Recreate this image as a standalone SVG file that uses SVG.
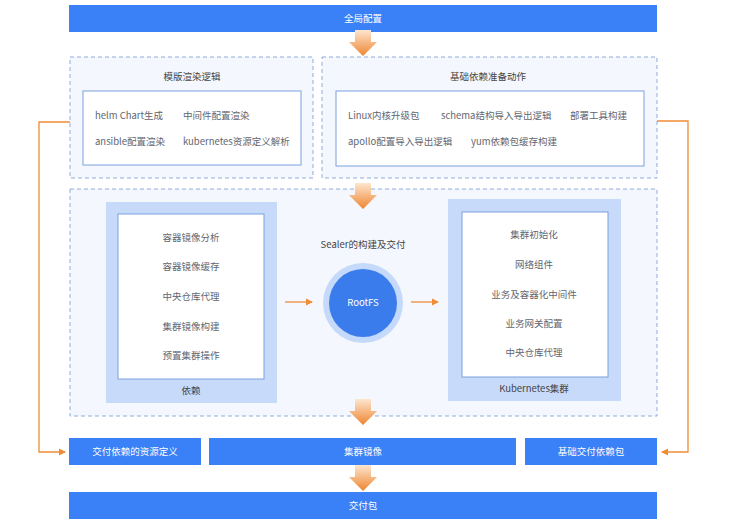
<svg xmlns="http://www.w3.org/2000/svg" width="731" height="527" viewBox="0 0 731 527">
<style>
text{font-family:"Noto Sans CJK SC","Liberation Sans",sans-serif;font-size:9.5px;fill:#5f6670}
.w{fill:#fff}
.bar{fill:#3a80f6}
.dash{fill:#f4f7fd;stroke:#8fabdc;stroke-width:1;stroke-dasharray:4 3}
.inner{fill:#fff;stroke:#7aa0e0;stroke-width:1}
.panel{fill:#c8dafa}
.c{text-anchor:middle}
.line{fill:none;stroke:#ef8c36;stroke-width:1.3}
</style>
<defs>
<linearGradient id="og" x1="0" y1="0" x2="0" y2="1">
<stop offset="0" stop-color="#fde6cf"/>
<stop offset="1" stop-color="#ee8530"/>
</linearGradient>
<path id="barrow" d="M-8,0 H8 V12 H14 L0,26 L-14,12 H-8 Z" fill="url(#og)"/>
<marker id="ah" markerWidth="8" markerHeight="8" refX="6" refY="4" orient="auto" markerUnits="userSpaceOnUse">
<path d="M0,0.5 L7,4 L0,7.5 Z" fill="#ef8c36"/>
</marker>
</defs>

<g id="global"><rect class="bar" x="69" y="5" width="588" height="27"/><text class="w c" x="363" y="22">全局配置</text></g>

<g id="template">
<rect class="dash" x="70" y="57" width="243" height="121"/>
<text class="c" x="192" y="80" style="fill:#444">模版渲染逻辑</text>
<rect class="inner" x="83" y="91" width="218" height="74"/>
<text x="95" y="119">helm Chart生成</text>
<text x="183" y="119">中间件配置渲染</text>
<text x="95" y="145">ansible配置渲染</text>
<text x="183" y="145">kubernetes资源定义解析</text>
</g>

<g id="base">
<rect class="dash" x="322" y="57" width="335" height="121"/>
<text class="c" x="488" y="80" style="fill:#444">基础依赖准备动作</text>
<rect class="inner" x="336" y="91" width="308" height="75"/>
<text x="348" y="119">Linux内核升级包</text>
<text x="441" y="119">schema结构导入导出逻辑</text>
<text x="570" y="119">部署工具构建</text>
<text x="348" y="145">apollo配置导入导出逻辑</text>
<text x="471" y="145">yum依赖包缓存构建</text>
</g>

<g id="sealer">
<rect class="dash" x="70" y="189" width="587" height="227"/>
<text class="c" x="363" y="248" style="fill:#444">Sealer的构建及交付</text>
</g>

<g id="deps">
<rect class="panel" x="106" y="202" width="171" height="201"/>
<rect class="inner" x="118" y="214" width="146" height="165"/>
<text class="c" x="191" y="241">容器镜像分析</text>
<text class="c" x="191" y="270">容器镜像缓存</text>
<text class="c" x="191" y="300">中央仓库代理</text>
<text class="c" x="191" y="330">集群镜像构建</text>
<text class="c" x="191" y="359">预置集群操作</text>
<text class="c" x="191" y="394" style="fill:#444">依赖</text>
</g>

<g id="rootfs">
<circle cx="363" cy="303" r="40" fill="#c5d9fb"/>
<circle cx="363" cy="303" r="34" fill="#3a7cec"/>
<text class="w c" x="363" y="306">RootFS</text>
</g>

<g id="k8s">
<rect class="panel" x="448" y="199" width="173" height="202"/>
<rect class="inner" x="462" y="212" width="146" height="165"/>
<text class="c" x="534" y="238">集群初始化</text>
<text class="c" x="534" y="268">网络组件</text>
<text class="c" x="534" y="298">业务及容器化中间件</text>
<text class="c" x="534" y="327">业务网关配置</text>
<text class="c" x="534" y="356">中央仓库代理</text>
<text class="c" x="534" y="392" style="fill:#444">Kubernetes集群</text>
</g>

<g id="resdef"><rect class="bar" x="69" y="438" width="132" height="27"/><text class="w c" x="135" y="455">交付依赖的资源定义</text></g>
<g id="image"><rect class="bar" x="209" y="438" width="307" height="27"/><text class="w c" x="363" y="455">集群镜像</text></g>
<g id="basepkg"><rect class="bar" x="525" y="438" width="132" height="27"/><text class="w c" x="591" y="455">基础交付依赖包</text></g>
<g id="delivery"><rect class="bar" x="69" y="492" width="588" height="27"/><text class="w c" x="363" y="509">交付包</text></g>

<g id="connectors">
<use href="#barrow" x="363" y="30"/>
<use href="#barrow" x="363" y="183"/>
<use href="#barrow" x="363" y="399"/>
<use href="#barrow" x="363" y="465"/>
<path class="line" d="M285,302 H312" marker-end="url(#ah)"/>
<path class="line" d="M411,302 H438" marker-end="url(#ah)"/>
<path class="line" d="M70,122 H39 V452 H65" marker-end="url(#ah)"/>
<path class="line" d="M657,121 H688 V452 H662" marker-end="url(#ah)"/>
</g>
</svg>
